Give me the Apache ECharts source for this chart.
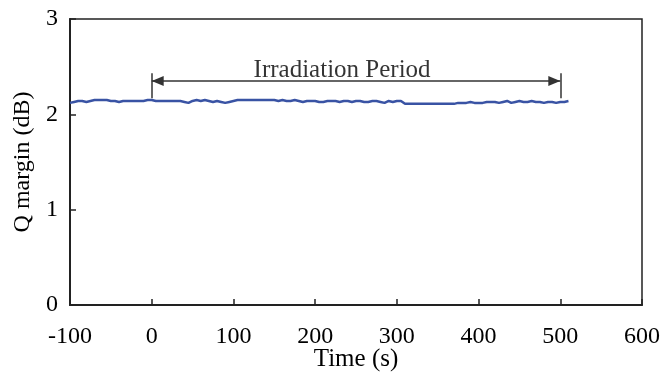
<!DOCTYPE html>
<html>
<head>
<meta charset="utf-8">
<script src="https://cdn.jsdelivr.net/npm/echarts@6/dist/echarts.min.js"></script>
<style>html,body{margin:0;padding:0;background:#fff}#c{width:664px;height:381px}</style>
</head>
<body>
<div id="c"></div>
<script>
const times = [];
for (let t = -100; t <= 520; t += 5) times.push(t);
const qMargin = [
  2.12,2.13,2.14,2.14,2.13,2.14,2.15,2.15,2.15,2.15,
  2.14,2.14,2.13,2.14,2.14,2.14,2.14,2.14,2.14,2.15,
  2.15,2.14,2.14,2.14,2.14,2.14,2.14,2.14,2.13,2.12,
  2.14,2.15,2.14,2.15,2.14,2.13,2.14,2.13,2.12,2.13,
  2.14,2.15,2.15,2.15,2.15,2.15,2.15,2.15,2.15,2.15,
  2.15,2.14,2.15,2.14,2.14,2.15,2.14,2.13,2.14,2.14,
  2.14,2.13,2.13,2.14,2.14,2.14,2.13,2.14,2.14,2.13,
  2.14,2.14,2.13,2.13,2.14,2.14,2.13,2.12,2.14,2.13,
  2.14,2.14,2.11,2.11,2.11,2.11,2.11,2.11,2.11,2.11,
  2.11,2.11,2.11,2.11,2.11,2.12,2.12,2.12,2.13,2.12,
  2.12,2.12,2.13,2.13,2.13,2.12,2.13,2.14,2.12,2.13,
  2.14,2.13,2.13,2.14,2.13,2.13,2.12,2.13,2.13,2.12,
  2.13,2.13,2.14
];
const xTicks = [-100, 0, 100, 200, 300, 400, 500, 600];
const yTicks = [0, 1, 2, 3];
const periodStart = 0, periodEnd = 500;
const arrowY = 2.35, barLow = 2.17, barHigh = 2.43;
const periodLabel = 'Irradiation Period';
const labelX = 233;

const font = 'Liberation Serif';
const chart = echarts.init(document.getElementById('c'));
chart.setOption({
  animation: false,
  grid: { left: 70, right: 22, top: 19, bottom: 76, outerBoundsMode: 'none', containLabel: false,
    show: true, borderColor: '#222', borderWidth: 1.5 },
  xAxis: {
    type: 'value', min: xTicks[0], max: xTicks[xTicks.length - 1], interval: 100,
    name: 'Time (s)', nameLocation: 'middle', nameGap: 42, nameMoveOverlap: false,
    nameTextStyle: { fontFamily: font, fontSize: 25, color: '#000' },
    axisLine: { show: true, onZero: false, lineStyle: { color: '#222', width: 2 } },
    axisTick: { show: true, inside: true, length: 6, lineStyle: { color: '#222', width: 1.5 } },
    axisLabel: { fontFamily: font, fontSize: 24, color: '#000', margin: 20 },
    splitLine: { show: false }
  },
  yAxis: {
    type: 'value', min: yTicks[0], max: yTicks[yTicks.length - 1], interval: 1,
    name: 'Q margin (dB)', nameLocation: 'middle', nameGap: 35, nameMoveOverlap: false,
    nameTextStyle: { fontFamily: font, fontSize: 24, color: '#000' },
    axisLine: { show: true, onZero: false, lineStyle: { color: '#222', width: 2 } },
    axisTick: { show: true, inside: true, length: 6, lineStyle: { color: '#222', width: 1.5 } },
    axisLabel: { fontFamily: font, fontSize: 24, color: '#000', margin: 12 },
    splitLine: { show: false }
  },
  series: [
    {
      type: 'line', data: times.map((t, i) => [t, qMargin[i]]),
      showSymbol: false, smooth: false,
      lineStyle: { color: '#3953a4', width: 2.5 }, z: 3
    },
    {
      type: 'scatter', data: [[labelX, arrowY]], symbolSize: 0, silent: true,
      label: { show: true, position: 'top', distance: 0, offset: [0, 2], formatter: periodLabel,
        fontFamily: font, fontSize: 25, color: '#000' },
      markLine: {
        silent: true, animation: false,
        lineStyle: { color: '#333', width: 1.5, type: 'solid' },
        label: { show: false },
        data: [
          [{ coord: [periodStart, arrowY], symbol: 'triangle', symbolSize: [10, 12], symbolRotate: 90, symbolOffset: [0, 6] },
           { coord: [periodEnd, arrowY], symbol: 'triangle', symbolSize: [10, 12], symbolRotate: -90, symbolOffset: [0, 6] }],
          [{ coord: [periodStart, barLow], symbol: 'none' }, { coord: [periodStart, barHigh], symbol: 'none' }],
          [{ coord: [periodEnd, barLow], symbol: 'none' }, { coord: [periodEnd, barHigh], symbol: 'none' }]
        ]
      }
    }
  ]
});
</script>
</body>
</html>
